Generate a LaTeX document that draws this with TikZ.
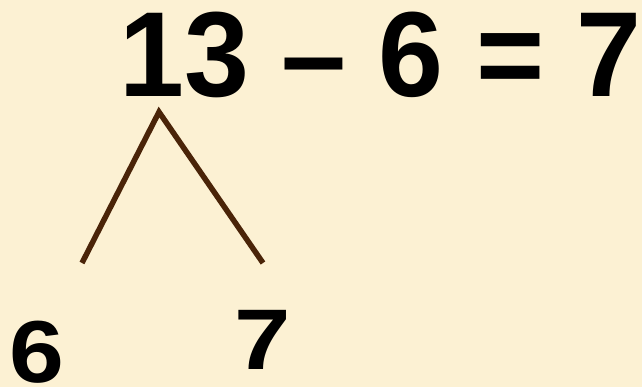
\documentclass[tikz,border=0pt]{standalone}
\usepackage{fontspec}
\setmainfont{Liberation Sans}
\usepackage{tikz}
\definecolor{papercolor}{HTML}{FCF1D3}
\definecolor{branchcolor}{HTML}{4A2408}

\begin{document}
\begin{tikzpicture}[
  x=1pt, y=-1pt,
  big/.style={font=\fontsize{121}{121}\selectfont\bfseries, inner sep=0pt, anchor=base west, xscale=0.965},
  part/.style={font=\fontsize{88}{88}\selectfont\bfseries, inner sep=0pt, anchor=base west},
  branch/.style={draw=branchcolor, line width=5.5pt}
]
% ---- paper ----
\fill[papercolor] (0,0) rectangle (642,387);
\useasboundingbox (0,0) rectangle (642,387);

% ===== EQUATION =====
\node[big] (eq) at (119,97) {13 -- 6 = 7};

% ===== NUMBER BOND =====
\coordinate (apex)  at (159,112);
\coordinate (leftend)  at (82,263);
\coordinate (rightend) at (263,263);
\draw[branch] (leftend) -- (apex) -- (rightend);

% parts
\node[part, xscale=1.12] (six)   at (9,382)   {6};
\node[part, font=\fontsize{86}{86}\selectfont\bfseries, xscale=1.18] (seven) at (234,369) {7};

\end{tikzpicture}
\end{document}
